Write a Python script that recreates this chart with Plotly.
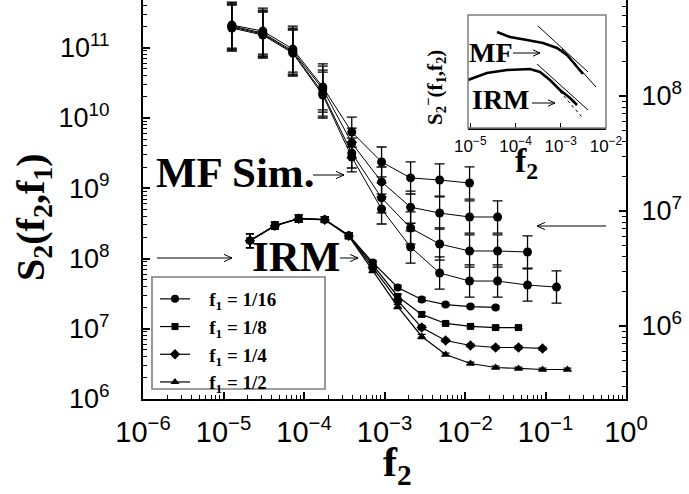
import plotly.graph_objects as go

# ---------------- data ----------------
f1_labels = ["1/16", "1/8", "1/4", "1/2"]

# IRM curves (left axis)
irm_f2 = [2.13e-5, 4.35e-5, 8.6e-5, 1.81e-4, 3.6e-4, 7.14e-4, 1.46e-3, 2.9e-3,
          5.74e-3, 1.17e-2, 2.40e-2, 4.62e-2, 9.18e-2, 0.1875]
irm_s2_f1_16 = [1.80e8, 2.95e8, 3.71e8, 3.59e8, 2.14e8, 8.8e7, 3.87e7, 2.61e7,
                2.21e7, 2.07e7, 2.01e7]
irm_s2_f1_8 = [1.80e8, 2.95e8, 3.71e8, 3.59e8, 2.12e8, 8.2e7, 2.88e7, 1.60e7,
               1.19e7, 1.08e7, 1.04e7, 1.04e7]
irm_s2_f1_4 = [1.79e8, 2.93e8, 3.69e8, 3.57e8, 2.10e8, 7.43e7, 2.52e7, 1.04e7,
               6.8e6, 5.78e6, 5.41e6, 5.41e6, 5.24e6]
irm_s2_f1_2 = [1.78e8, 2.92e8, 3.68e8, 3.55e8, 2.08e8, 6.74e7, 2.07e7, 7.76e6,
               4.30e6, 3.20e6, 2.81e6, 2.72e6, 2.63e6, 2.63e6]
irm_err_dex = [0.10, 0.05, 0.05, 0.04, 0.04, 0.03, 0.03, 0.03, 0.02, 0.02,
               0.02, 0.02, 0.02, 0.02]

# MF simulation curves (right axis)
mf_f2 = [1.27e-5, 3.08e-5, 7.26e-5, 1.71e-4, 3.92e-4, 9.2e-4, 2.11e-3, 4.84e-3,
         1.14e-2, 2.54e-2, 5.98e-2, 0.137]
mf_s2_f1_16 = [4.14e8, 3.67e8, 2.56e8, 1.20e8, 4.86e7, 2.67e7, 1.94e7, 1.86e7, 1.75e7]
mf_s2_f1_8 = [4.06e8, 3.53e8, 2.46e8, 1.15e8, 3.90e7, 1.79e7, 1.08e7, 9.6e6,
              8.87e6, 8.87e6]
mf_s2_f1_4 = [3.98e8, 3.46e8, 2.41e8, 1.06e8, 3.19e7, 1.30e7, 7.11e6, 5.16e6,
              4.49e6, 4.49e6, 4.40e6]
mf_s2_f1_2 = [3.90e8, 3.39e8, 2.36e8, 1.02e8, 2.95e7, 1.04e7, 4.86e6, 2.89e6,
              2.46e6, 2.46e6, 2.27e6, 2.18e6]
mf_err_dex = [0.20, 0.20, 0.20, 0.20, 0.13, 0.13, 0.14, 0.14, 0.14, 0.14, 0.14, 0.14]

# inset curves
inset_mf_f2 = [3.90e-5, 7.55e-5, 1.79e-4, 4.05e-4, 8.26e-4, 1.37e-3, 1.86e-3, 2.66e-3, 3.10e-3]
inset_mf_s2 = [1.77e9, 1.06e9, 7.83e8, 5.77e8, 3.47e8, 1.70e8, 8.32e7, 3.68e7, 2.45e7]
inset_mf_fit1_f2 = [3.14e-4, 4.00e-3]
inset_mf_fit1_s2 = [3.26e9, 3.01e7]
inset_mf_fit2_f2 = [1.06e-3, 6.01e-3]
inset_mf_fit2_s2 = [3.13e8, 6.52e6]
inset_irm_f2 = [8.91e-6, 2.34e-5, 6.49e-5, 2.09e-4, 3.48e-4, 5.78e-4, 9.62e-4, 1.60e-3, 2.29e-3]
inset_irm_s2 = [1.33e7, 2.72e7, 3.68e7, 4.08e7, 3.01e7, 1.33e7, 4.80e6, 2.12e6, 1.04e6]
inset_irm_fit1_f2 = [2.99e-4, 4.00e-3]
inset_irm_fit1_s2 = [6.79e7, 6.25e5]
inset_irm_fit2_f2 = [7.85e-4, 2.94e-3]
inset_irm_fit2_s2 = [6.52e6, 3.07e5]

# tick labels
x_tickvals = [1e-6, 1e-5, 1e-4, 1e-3, 1e-2, 1e-1, 1e0]
x_ticktext = ["10<sup>\u22126</sup>", "10<sup>\u22125</sup>", "10<sup>\u22124</sup>",
              "10<sup>\u22123</sup>", "10<sup>\u22122</sup>", "10<sup>\u22121</sup>",
              "10<sup>0</sup>"]
yl_tickvals = [1e6, 1e7, 1e8, 1e9, 1e10, 1e11]
yl_ticktext = ["10<sup>6</sup>", "10<sup>7</sup>", "10<sup>8</sup>",
               "10<sup>9</sup>", "10<sup>10</sup>", "10<sup>11</sup>"]
yr_tickvals = [1e6, 1e7, 1e8]
yr_ticktext = ["10<sup>6</sup>", "10<sup>7</sup>", "10<sup>8</sup>"]
inset_tickvals = [1e-5, 1e-4, 1e-3, 1e-2]
inset_ticktext = ["10<sup>\u22125</sup>", "10<sup>\u22124</sup>",
                  "10<sup>\u22123</sup>", "10<sup>\u22122</sup>"]

# ---------------- layout geometry ----------------
W, H = 689, 494
L_PX, R_PX, T_PX, B_PX = 143, 626, 0, 399


def px(xp, yp):
    return (xp - L_PX) / (R_PX - L_PX), (B_PX - yp) / (B_PX - T_PX)


def minor_vals(lo, hi):
    out = []
    for e in range(lo, hi):
        for m in range(2, 10):
            out.append(m * 10.0 ** e)
    return out


def err_arrays(vals, dex):
    plus = [v * (10 ** d - 1) for v, d in zip(vals, dex)]
    minus = [v * (1 - 10 ** (-d)) for v, d in zip(vals, dex)]
    return plus, minus


SERIF = "Liberation Serif"
SANS = "Liberation Sans"

fig = go.Figure()

# MF simulation curves (right axis)
for vals in [mf_s2_f1_16, mf_s2_f1_8, mf_s2_f1_4, mf_s2_f1_2]:
    n = len(vals)
    p, m = err_arrays(vals, mf_err_dex[:n])
    fig.add_trace(go.Scatter(
        x=mf_f2[:n], y=vals, mode="lines+markers", yaxis="y2", xaxis="x",
        line=dict(color="black", width=1),
        marker=dict(symbol="circle", size=9, color="black"),
        error_y=dict(type="data", array=p, arrayminus=m, color="black",
                     thickness=1.3, width=5),
        showlegend=False, cliponaxis=False))

# IRM curves (left axis)
irm_sets = [(irm_s2_f1_16, "circle", 8), (irm_s2_f1_8, "square", 7),
            (irm_s2_f1_4, "diamond", 8), (irm_s2_f1_2, "triangle-up", 8)]
for (vals, sym, sz), lab in zip(irm_sets, f1_labels):
    n = len(vals)
    p, m = err_arrays(vals, irm_err_dex[:n])
    fig.add_trace(go.Scatter(
        x=irm_f2[:n], y=vals, mode="lines+markers", xaxis="x", yaxis="y",
        line=dict(color="black", width=1.2),
        marker=dict(symbol=sym, size=sz, color="black"),
        error_y=dict(type="data", array=p, arrayminus=m, color="black",
                     thickness=1.2, width=4),
        name="\u00a0\u00a0\u00a0<b>f<sub>1</sub> = " + lab + "</b>", showlegend=True,
        cliponaxis=False))

# inset curves
inset_lines = [
    (inset_mf_f2, inset_mf_s2, 2.6, "solid"),
    (inset_mf_fit1_f2, inset_mf_fit1_s2, 1, "solid"),
    (inset_mf_fit2_f2, inset_mf_fit2_s2, 1, "solid"),
    (inset_irm_f2, inset_irm_s2, 2.6, "solid"),
    (inset_irm_fit1_f2, inset_irm_fit1_s2, 1, "solid"),
    (inset_irm_fit2_f2, inset_irm_fit2_s2, 1, "dot"),
]
for xs, ys, w, d in inset_lines:
    fig.add_trace(go.Scatter(x=xs, y=ys, mode="lines", xaxis="x3", yaxis="y3",
                             line=dict(color="black", width=w, dash=d),
                             showlegend=False, hoverinfo="skip"))

# ---------------- shapes: arrows and boxes ----------------
shapes = []


def hline_arrow(x0, x1, y, head=8):
    a = px(x0, y)
    b = px(x1, y)
    shapes.append(dict(type="line", xref="paper", yref="paper", x0=a[0], y0=a[1],
                       x1=b[0], y1=b[1], line=dict(color="black", width=1)))
    d = 1 if x1 > x0 else -1
    for s in (-1, 1):
        c = px(x1 - d * head, y + s * head * 0.45)
        shapes.append(dict(type="line", xref="paper", yref="paper", x0=b[0], y0=b[1],
                           x1=c[0], y1=c[1], line=dict(color="black", width=1)))


hline_arrow(313, 344, 175)   # MF Sim. ->
hline_arrow(340, 358, 258)   # IRM ->
hline_arrow(157, 232, 258)   # left arrow
hline_arrow(606, 537, 226)   # right arrow
hline_arrow(513, 540, 53, 7)   # inset MF ->
hline_arrow(532, 555, 103, 7)  # inset IRM ->

# legend box
a = px(152, 277)
b = px(325, 389)
shapes.append(dict(type="rect", xref="paper", yref="paper", x0=a[0], y0=b[1],
                   x1=b[0], y1=a[1], line=dict(color="#7f7f7f", width=1.6)))
# inset frame
ia = px(468, 15)
ib = px(606, 128)
shapes.append(dict(type="rect", xref="paper", yref="paper", x0=ia[0], y0=ib[1],
                   x1=ib[0], y1=ia[1], line=dict(color="#7f7f7f", width=1.5)))

# ---------------- annotations ----------------
ann = []


def text_at(xp, yp, txt, size, family=SERIF, angle=0):
    p = px(xp, yp)
    ann.append(dict(x=p[0], y=p[1], xref="paper", yref="paper", text=txt,
                    showarrow=False, xanchor="center", yanchor="middle",
                    textangle=angle, font=dict(family=family, size=size, color="black")))


text_at(235, 172, "<b>MF Sim.</b>", 43)
text_at(296, 256, "<b>IRM</b>", 43)
text_at(491, 52, "<b>MF</b>", 28)
text_at(501, 99, "<b>IRM</b>", 28)
text_at(33, 217, "<b>S<sub>2</sub>(f<sub>2</sub>,f<sub>1</sub>)</b>", 40, angle=-90)
text_at(397, 465, "<b>f<sub>2</sub></b>", 42)
text_at(526, 163, "<b>f<sub>2</sub></b>", 34)
text_at(434, 88, "<b>S<sub>2</sub><sup>\u2212</sup>(f<sub>1</sub>,f<sub>2</sub>)</b>", 21, angle=-90)

fig.update_layout(
    width=W, height=H,
    margin=dict(l=L_PX, r=W - R_PX, t=T_PX, b=H - B_PX, pad=0),
    paper_bgcolor="white", plot_bgcolor="rgba(0,0,0,0)",
    font=dict(family=SANS, color="black"),
    shapes=shapes, annotations=ann,
    legend=dict(x=px(155, 0)[0], y=px(0, 280)[1], xanchor="left", yanchor="top",
                bgcolor="rgba(0,0,0,0)", borderwidth=0,
                font=dict(family=SERIF, size=19, color="black"),
                tracegroupgap=0, itemwidth=30),
    xaxis=dict(type="log", range=[-6, 0], tickmode="array", tickvals=x_tickvals,
               ticktext=x_ticktext, ticks="inside", ticklen=7, tickwidth=1.5,
               tickcolor="black", showline=True, linecolor="black", linewidth=2,
               mirror=False, showgrid=False, zeroline=False,
               tickfont=dict(family=SANS, size=29), ticklabelstandoff=6,
               minor=dict(tickmode="array", tickvals=minor_vals(-6, 0), ticks="inside",
                          ticklen=4, tickwidth=1, tickcolor="black", showgrid=False)),
    yaxis=dict(type="log", range=[6, 11.68], tickmode="array", tickvals=yl_tickvals,
               ticktext=yl_ticktext, ticks="inside", ticklen=7, tickwidth=1.5,
               tickcolor="black", showline=True, linecolor="black", linewidth=2,
               showgrid=False, zeroline=False,
               tickfont=dict(family=SANS, size=27), ticklabelstandoff=26,
               minor=dict(tickmode="array", tickvals=minor_vals(6, 12), ticks="inside",
                          ticklen=4, tickwidth=1, tickcolor="black", showgrid=False)),
    yaxis2=dict(type="log", range=[5.365, 8.835], overlaying="y", side="right",
                anchor="x", tickmode="array", tickvals=yr_tickvals, ticktext=yr_ticktext,
                ticks="inside", ticklen=7, tickwidth=1.5, tickcolor="black",
                showline=True, linecolor="black", linewidth=2, showgrid=False,
                zeroline=False, tickfont=dict(family=SANS, size=27),
                ticklabelstandoff=8,
                minor=dict(tickmode="array", tickvals=minor_vals(5, 9), ticks="inside",
                           ticklen=4, tickwidth=1, tickcolor="black", showgrid=False)),
    xaxis3=dict(type="log", range=[-5.05, -2.0], domain=[px(468, 0)[0], px(606, 0)[0]],
                anchor="y3", tickmode="array", tickvals=inset_tickvals,
                ticktext=inset_ticktext, ticks="inside", ticklen=5, tickwidth=1.2,
                tickcolor="black", showline=True, linecolor="black", linewidth=1.5,
                showgrid=False, zeroline=False,
                tickfont=dict(family=SANS, size=17), ticklabelstandoff=2),
    yaxis3=dict(type="log", range=[5, 10], domain=[px(0, 128)[1], px(0, 15)[1]],
                anchor="x3", showticklabels=False, ticks="", showline=False,
                showgrid=False, zeroline=False),
)

fig.write_html("out.html",
               config={"displayModeBar": False},
               post_script="document.body.style.margin='0px';"
                           "document.documentElement.style.margin='0px';")
